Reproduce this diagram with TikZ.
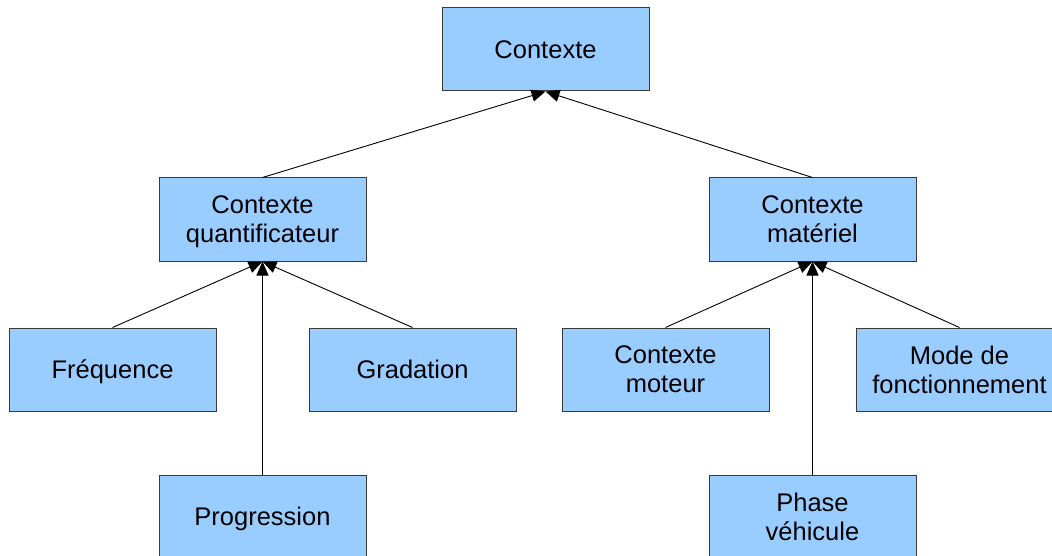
\documentclass[tikz,border=0pt]{standalone}
\usepackage{fontspec}
\setmainfont{Liberation Sans}
\usetikzlibrary{arrows.meta}
\definecolor{boxfill}{HTML}{99CCFF}
\definecolor{boxline}{HTML}{3A3A3A}
\begin{document}
\begin{tikzpicture}[x=1pt,y=-1pt,
  class/.style={draw=boxline, fill=boxfill, line width=1pt, rectangle,
    minimum width=207pt, minimum height=83pt, inner sep=0pt, align=center,
    text depth=0pt, font=\fontsize{25.5}{29}\selectfont},
  inherit/.style={draw=black, line width=0.9pt,
    -{Triangle[length=14pt,width=12pt]}}]
\useasboundingbox (0,0) rectangle (1052,556);
% hierarchy of contexts
\node[class] (ctx)   at (545.5,49.5)  {Contexte};
\node[class] (quant) at (262.5,219.5) {Contexte\\quantificateur};
\node[class] (mat)   at (812.5,219.5) {Contexte\\matériel};
\node[class] (freq)  at (112.5,369.5) {Fréquence};
\node[class] (grad)  at (412.5,369.5) {Gradation};
\node[class] (mot)   at (665.5,369.5) {Contexte\\moteur};
\node[class] (mode)  at (959.5,369.5) {Mode de\\fonctionnement};
\node[class] (prog)  at (262.5,516.5) {Progression};
\node[class] (phase) at (812.5,516.5) {Phase\\véhicule};
% generalisation links
\draw[inherit] (quant.north) -- (ctx.south);
\draw[inherit] (mat.north) -- (ctx.south);
\draw[inherit] (freq.north) -- (quant.south);
\draw[inherit] (prog.north) -- (quant.south);
\draw[inherit] (grad.north) -- (quant.south);
\draw[inherit] (mot.north) -- (mat.south);
\draw[inherit] (phase.north) -- (mat.south);
\draw[inherit] (mode.north) -- (mat.south);
\end{tikzpicture}
\end{document}
